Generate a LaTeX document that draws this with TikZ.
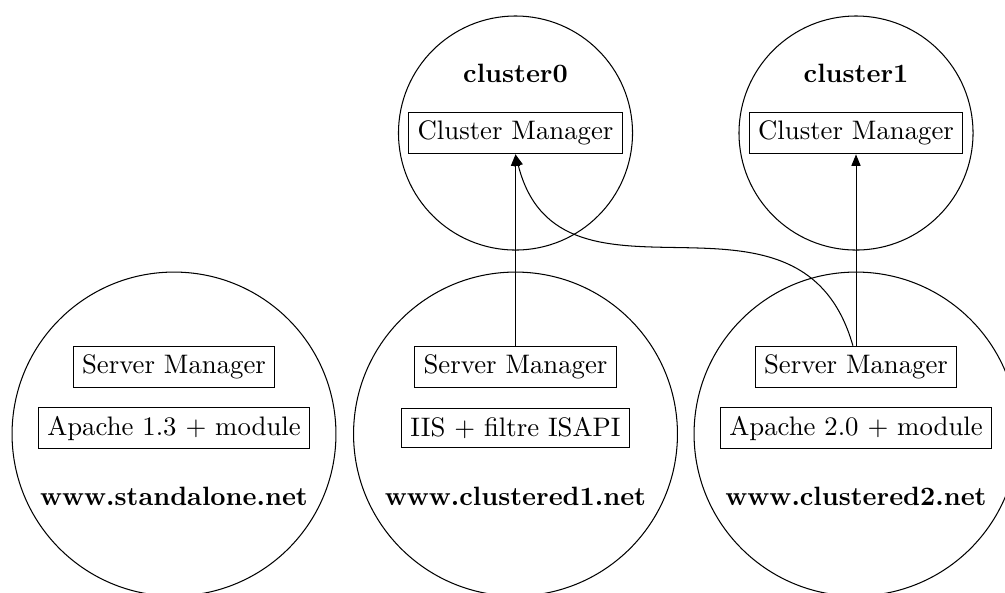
\documentclass[tikz,border=0pt]{standalone}
\usetikzlibrary{arrows.meta}
\begin{document}
\begin{tikzpicture}[x=0.385pt,y=-0.385pt,
  zone/.style={draw,circle,inner sep=0pt,minimum size=90.1pt},
  site/.style={draw,circle,inner sep=0pt,minimum size=124.7pt},
  box/.style={draw,rectangle,font=\fontsize{10.3}{12}\selectfont},
  title/.style={font=\fontsize{10.2}{12}\selectfont\bfseries},
  link/.style={-{Triangle[length=4.4pt,width=3.5pt]},line width=0.4pt}]
\useasboundingbox (0,0) rectangle (1005,592);
\clip (0,0) rectangle (1005,592);

% clusters
\node[zone] (c0) at (515.5,133) {};
\node[zone] (c1) at (856,133) {};
% web sites
\node[site] (s0) at (174,434) {};
\node[site] (s1) at (515.5,434) {};
\node[site] (s2) at (856,434) {};

% cluster contents
\node[title] (t0) at (515.5,73) {cluster0};
\node[box] (cm0) at (515.5,133) {Cluster Manager};
\node[title] (t1) at (856,73) {cluster1};
\node[box] (cm1) at (856,133) {Cluster Manager};

% site contents
\node[box] (sm0) at (174,367) {Server Manager};
\node[box] (ap0) at (174,428) {Apache 1.3 + module};
\node[title] (w0) at (174,496) {www.standalone.net};

\node[box] (sm1) at (515.5,367) {Server Manager};
\node[box] (ap1) at (515.5,428) {IIS + filtre ISAPI};
\node[title] (w1) at (515.5,496) {www.clustered1.net};

\node[box] (sm2) at (856,367) {Server Manager};
\node[box] (ap2) at (856,428) {Apache 2.0 + module};
\node[title] (w2) at (856,496) {www.clustered2.net};

% manager links
\draw[link] (sm1.north) -- (cm0.south);
\draw[link] (sm2.north) -- (cm1.south);
\draw[link] ([xshift=-1.2pt]sm2.north) .. controls (800,160) and (560,330) .. (cm0.south);
\end{tikzpicture}
\end{document}
